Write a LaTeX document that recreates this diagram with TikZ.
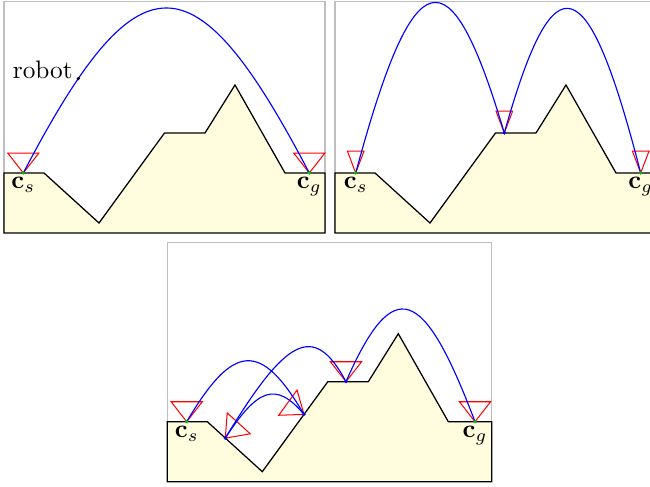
\documentclass[tikz,border=0pt]{standalone}
\usepackage{amsmath,amssymb}
\usepackage{tikz}
\usetikzlibrary{calc}
\definecolor{groundfill}{RGB}{255,253,222}
\newcommand{\cone}[4]{\draw[cone] (#1) -- +(#2-#3:#4) -- +(#2+#3:#4) -- cycle;}

\begin{document}
\begin{tikzpicture}[
    x=0.0139cm, y=0.0139cm,
    frame/.style={draw=black!25, line width=0.4pt},
    ground/.style={draw=black, fill=groundfill, line width=0.5pt},
    cone/.style={draw=red, line width=0.4pt},
    jump/.style={draw=blue, line width=0.45pt},
    lbl/.style={below, inner sep=1.5pt},
    pics/terrain/.style={code={
        \draw[ground] (0,0) -- (0,60) -- (40,60) -- (95,10) -- (160.5,100) -- (201,100) -- (231,148) -- (281,60) -- (#1,60) -- (#1,0) -- cycle;
    }}
]
\useasboundingbox (0,0) rectangle (650,487);

\begin{scope}[shift={(4,254)}]
\draw[frame] (0,0) rectangle (321,231.3);
\pic {terrain=321};
\coordinate (cs1) at (19.3,60);
\coordinate (cg1) at (305.3,60);
\cone{cs1}{90}{38}{25.3}
\cone{cg1}{90}{38}{25.3}
\draw[jump] (cs1) .. controls +(115,220) and +(-115,220) .. (cg1) coordinate[pos=0.173] (robot);
\fill[green!75!black] (cs1) circle (1.8);
\fill[green!75!black] (cg1) circle (1.8);
\fill (robot) circle (1.8);
\node[anchor=base east, inner sep=2pt] (robotlabel) at (robot) {robot};
\node[lbl] (cslabel1) at (cs1) {$\mathbf{c}_s$};
\node[lbl] (cglabel1) at (cg1) {$\mathbf{c}_g$};
\end{scope}

\begin{scope}[shift={(335,254)}]
\draw[frame] (0,0) rectangle (321,231.3);
\pic {terrain=321};
\coordinate (cs2) at (20.7,60);
\coordinate (w2) at (169.3,100);
\coordinate (cg2) at (305.7,60);
\cone{cs2}{90}{20.8}{23.5}
\cone{w2}{90}{20.8}{23.5}
\cone{cg2}{90}{20.8}{23.5}
\draw[jump] (cs2) .. controls +(58,215) and +(-55,185) .. (w2);
\draw[jump] (w2) .. controls +(50,178) and +(-53,206) .. (cg2);
\fill[green!75!black] (cs2) circle (1.8);
\fill[blue] (w2) circle (1.8);
\fill[green!75!black] (cg2) circle (1.8);
\node[lbl] (cslabel2) at (cs2) {$\mathbf{c}_s$};
\node[lbl] (cglabel2) at (cg2) {$\mathbf{c}_g$};
\end{scope}

\begin{scope}[shift={(167.3,5.3)}]
\draw[frame] (0,0) rectangle (324.4,239.4);
\pic {terrain=324.4};
\coordinate (cs3) at (19.4,60);
\coordinate (a3) at (58,43.6);
\coordinate (b3) at (136.7,67.3);
\coordinate (c3) at (178.7,100);
\coordinate (cg3) at (307.7,60);
\cone{cs3}{90}{38}{25.3}
\cone{a3}{47.7}{38}{25.3}
\cone{b3}{144}{38}{25.3}
\cone{c3}{90}{38}{25.3}
\cone{cg3}{90}{38}{25.3}
\draw[jump] (cs3) .. controls +(46.6,78.8) and +(-43.4,73.9) .. (b3);
\draw[jump] (b3) .. controls +(-28.3,33.6) and +(32.1,49.4) .. (a3);
\draw[jump] (a3) .. controls +(59.9,98.7) and +(-32.6,61.1) .. (c3);
\draw[jump] (c3) .. controls +(47.6,108.8) and +(-51.3,135.5) .. (cg3);
\fill[green!75!black] (cs3) circle (1.8);
\fill[blue] (a3) circle (1.8);
\fill[blue] (b3) circle (1.8);
\fill[blue] (c3) circle (1.8);
\fill[green!75!black] (cg3) circle (1.8);
\node[lbl] (cslabel3) at (cs3) {$\mathbf{c}_s$};
\node[lbl] (cglabel3) at (cg3) {$\mathbf{c}_g$};
\end{scope}
\end{tikzpicture}
\end{document}
